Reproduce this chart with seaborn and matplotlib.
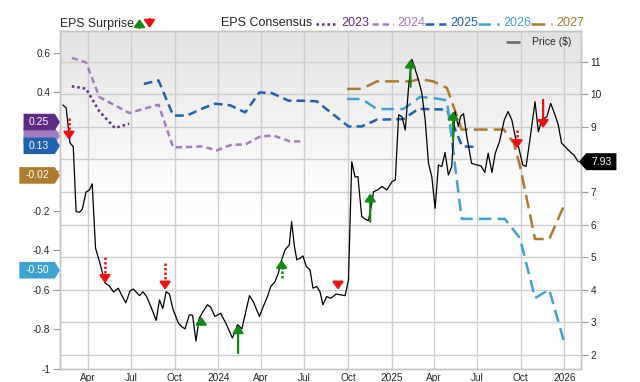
import numpy as np
import pandas as pd
import matplotlib
matplotlib.use("Agg")
import matplotlib.pyplot as plt
import matplotlib.dates as mdates
import matplotlib.transforms as mtransforms
from matplotlib.colors import LinearSegmentedColormap
from matplotlib.lines import Line2D
from matplotlib.patches import Polygon, FancyArrowPatch
import seaborn as sns

sns.set_style("white")
plt.rcParams["font.family"] = ["Liberation Sans", "DejaVu Sans"]

# price ($), right axis
price_dates = ["2023-02-07", "2023-02-14", "2023-02-22", "2023-03-01", "2023-03-07", "2023-03-14", "2023-03-20",
               "2023-03-28", "2023-04-04", "2023-04-10", "2023-04-17", "2023-04-26", "2023-05-07", "2023-05-16",
               "2023-05-25", "2023-06-04", "2023-06-11", "2023-06-20", "2023-06-29", "2023-07-06", "2023-07-19",
               "2023-07-26", "2023-08-03", "2023-08-12", "2023-08-23", "2023-08-30", "2023-09-06", "2023-09-13",
               "2023-09-20", "2023-09-28", "2023-10-09", "2023-10-16", "2023-10-23", "2023-11-01", "2023-11-08",
               "2023-11-15", "2023-11-22", "2023-11-30", "2023-12-09", "2023-12-16", "2023-12-25", "2024-01-06",
               "2024-01-17", "2024-01-31", "2024-02-11", "2024-02-20", "2024-03-07", "2024-03-15", "2024-03-28",
               "2024-04-05", "2024-04-14", "2024-04-21", "2024-04-30", "2024-05-07", "2024-05-14", "2024-05-21",
               "2024-05-30", "2024-06-04", "2024-06-10", "2024-06-15", "2024-06-22", "2024-06-28", "2024-07-05",
               "2024-07-13", "2024-07-19", "2024-07-27", "2024-08-03", "2024-08-09", "2024-08-17", "2024-08-26",
               "2024-09-06", "2024-09-17", "2024-09-25", "2024-10-02", "2024-10-09", "2024-10-16", "2024-10-22",
               "2024-10-30", "2024-11-06", "2024-11-13", "2024-11-19", "2024-11-24", "2024-12-02", "2024-12-12",
               "2024-12-22", "2025-01-02", "2025-01-09", "2025-01-16", "2025-01-23", "2025-01-30", "2025-02-06",
               "2025-02-13", "2025-02-20", "2025-02-27", "2025-03-06", "2025-03-13", "2025-03-20", "2025-03-27",
               "2025-04-03", "2025-04-10", "2025-04-17", "2025-04-24", "2025-05-01", "2025-05-08", "2025-05-15",
               "2025-05-22", "2025-05-27", "2025-06-02", "2025-06-09", "2025-06-19", "2025-06-30", "2025-07-09",
               "2025-07-17", "2025-07-24", "2025-08-01", "2025-08-08", "2025-08-17", "2025-08-27", "2025-09-04",
               "2025-09-12", "2025-09-19", "2025-09-26", "2025-10-05", "2025-10-12", "2025-10-21", "2025-10-31",
               "2025-11-07", "2025-11-14", "2025-11-25", "2025-12-03", "2025-12-12", "2025-12-19", "2025-12-26",
               "2026-01-06", "2026-01-16", "2026-01-21", "2026-01-30"]
price_vals = [9.67, 9.58, 8.51, 8.39, 6.40, 6.38, 6.47, 7.00, 7.06, 7.25,
              5.28, 4.83, 4.21, 4.12, 3.93, 4.05, 3.84, 3.60, 3.97, 4.02,
              3.82, 3.94, 3.79, 3.48, 3.06, 3.69, 3.42, 3.94, 3.87, 3.38,
              2.98, 2.87, 2.80, 3.23, 3.22, 2.43, 3.13, 3.33, 3.54, 3.47,
              3.18, 3.28, 2.98, 2.52, 2.93, 2.80, 3.82, 3.64, 3.18, 3.48,
              3.79, 4.10, 4.25, 4.51, 4.92, 5.22, 5.38, 6.09, 5.33, 4.92,
              4.97, 5.04, 4.71, 4.61, 4.05, 4.10, 3.94, 3.54, 3.79, 3.74,
              3.87, 3.84, 3.82, 4.30, 7.93, 7.46, 7.47, 6.25, 6.17, 6.12,
              6.55, 7.01, 7.06, 7.17, 7.06, 7.32, 7.37, 9.37, 9.31, 8.90,
              10.23, 11.07, 10.75, 10.44, 10.03, 9.21, 7.88, 7.47, 6.50, 7.83,
              7.78, 8.21, 7.52, 7.78, 9.47, 9.01, 9.33, 9.40, 8.70, 7.88,
              7.83, 7.80, 7.60, 8.19, 7.60, 8.19, 8.55, 9.21, 9.47, 9.21,
              8.70, 8.39, 7.83, 7.78, 8.70, 9.77, 8.85, 9.21, 9.31, 9.72,
              9.37, 9.06, 8.50, 8.34, 8.19, 8.14, 7.93]
last_price = 7.93

# EPS consensus by fiscal year, left axis
eps_2023_dates = ["2023-02-26", "2023-03-28", "2023-04-25", "2023-05-28", "2023-06-27"]
eps_2023 = [0.431, 0.419, 0.304, 0.220, 0.242]
eps_2024_dates = ["2023-02-26", "2023-03-28", "2023-04-25", "2023-06-27", "2023-08-28", "2023-09-28", "2023-11-02",
                  "2023-11-27", "2023-12-29", "2024-01-30", "2024-02-27", "2024-03-30", "2024-04-27", "2024-06-01",
                  "2024-06-29"]
eps_2024 = [0.575, 0.552, 0.377, 0.296, 0.338, 0.122, 0.124, 0.127, 0.107, 0.136, 0.136, 0.178, 0.181, 0.152, 0.152]
eps_2025_dates = ["2023-07-28", "2023-08-28", "2023-09-28", "2023-10-27", "2023-12-01", "2023-12-25", "2024-01-26",
                  "2024-02-27", "2024-03-28", "2024-04-23", "2024-05-29", "2024-06-29", "2024-07-27", "2024-10-02",
                  "2024-10-30", "2024-12-01", "2025-01-26", "2025-02-27", "2025-04-28", "2025-05-30", "2025-06-30"]
eps_2025 = [0.443, 0.461, 0.283, 0.283, 0.321, 0.343, 0.335, 0.299, 0.400, 0.397, 0.358, 0.358, 0.355, 0.228,
            0.228, 0.262, 0.265, 0.317, 0.313, 0.127, 0.124]
eps_2026_dates = ["2024-09-29", "2024-10-30", "2024-12-01", "2025-01-26", "2025-03-02", "2025-03-30", "2025-04-28",
                  "2025-05-29", "2025-08-28", "2025-09-29", "2025-10-31", "2025-11-30", "2025-12-31"]
eps_2026 = [0.367, 0.367, 0.316, 0.316, 0.377, 0.372, 0.360, -0.240, -0.240, -0.337, -0.641, -0.598, -0.860]
eps_2027_dates = ["2024-09-29", "2024-10-30", "2024-12-01", "2025-02-10", "2025-03-02", "2025-03-30", "2025-04-28",
                  "2025-05-29", "2025-08-26", "2025-09-16", "2025-09-29", "2025-10-31", "2025-11-30", "2025-12-31"]
eps_2027 = [0.418, 0.418, 0.456, 0.456, 0.468, 0.456, 0.423, 0.212, 0.212, 0.144, 0.030, -0.342, -0.342, -0.173]

years = ["2023", "2024", "2025", "2026", "2027"]
year_dates = [eps_2023_dates, eps_2024_dates, eps_2025_dates, eps_2026_dates, eps_2027_dates]
year_vals = [eps_2023, eps_2024, eps_2025, eps_2026, eps_2027]
year_colors = ["#5e2c84", "#a57cbf", "#1f62b0", "#3ea2d2", "#ad7a2e"]
year_styles = [(0, (1, 1.2)), (0, (2.5, 1.6)), (0, (3.5, 2)), (0, (5, 2.5)), (0, (5.5, 2.5))]
# current consensus tags on the left edge (2024 tag is hidden behind the others)
tag_years = ["2024", "2023", "2025", "2027", "2026"]
tag_values = [0.18, 0.25, 0.13, -0.02, -0.50]
tag_texts = ["", "0.25", "0.13", "-0.02", "-0.50"]

# axis ticks (labels hidden under the tags are left blank)
eps_ticks = [-1, -0.8, -0.6, -0.4, -0.2, 0, 0.2, 0.4, 0.6]
eps_tick_labels = ["-1", "-0.8", "-0.6", "-0.4", "-0.2", "", "", "0.4", "0.6"]
price_ticks = [2, 3, 4, 5, 6, 7, 8, 9, 10, 11]
price_tick_labels = ["2", "3", "4", "5", "6", "7", "", "9", "10", "11"]

# EPS surprise arrows (price at arrow tail and head)
surp_dates = ["2023-02-20", "2023-05-07", "2023-09-11", "2023-11-26", "2024-02-12", "2024-05-14",
              "2024-09-10", "2024-11-17", "2025-02-10", "2025-05-11", "2025-09-23", "2025-11-17"]
surp_from = [9.27, 5.02, 4.83, 2.92, 2.06, 4.37, 4.21, 6.09, 10.23, 8.60, 8.90, 9.83]
surp_to = [8.60, 4.20, 4.00, 3.18, 2.92, 4.92, 4.00, 6.96, 11.07, 9.47, 8.34, 8.96]
surp_solid = [False, False, False, False, True, False, False, True, True, True, False, True]

GREEN = "#138a13"
RED = "#f01010"
eps_lim = (-1.0, 0.711)
price_lim = (1.57, 11.94)
ARROW = "-|>,head_length=0.45,head_width=0.32"

fig = plt.figure(figsize=(6.4, 3.82), dpi=100)
ax = fig.add_axes([60 / 640, 13 / 382, 521 / 640, 338 / 382])
ax2 = ax.twinx()

# background gradient (grey top -> white)
g = np.linspace(0, 1, 256).reshape(-1, 1)
g = np.clip((g - 0.45) / 0.55, 0, 1) ** 1.2
cmap = LinearSegmentedColormap.from_list("bg", ["#ffffff", "#e3e3e3"])
ax.imshow(g, extent=[0, 1, 0, 1], transform=ax.transAxes, origin="lower", cmap=cmap,
          aspect="auto", zorder=0, vmin=0, vmax=1)


def p2e(p):
    return eps_lim[0] + (p - price_lim[0]) * (eps_lim[1] - eps_lim[0]) / (price_lim[1] - price_lim[0])


# horizontal grid follows the price axis, drawn under the consensus lines
for p in price_ticks:
    ax.axhline(p2e(p), color="#cdcdcd", lw=1, zorder=0.6)
ax.set_axisbelow(True)
ax.grid(axis="x", color="#cdcdcd", lw=1)

for yr, d, v, c, ls in zip(years, year_dates, year_vals, year_colors, year_styles):
    sns.lineplot(x=pd.to_datetime(d), y=v, ax=ax, color=c, linestyle=ls, lw=1.8, zorder=2)

sns.lineplot(x=pd.to_datetime(price_dates), y=price_vals, ax=ax2, color="black", lw=0.9, zorder=3)

# surprise arrows: solid ones in one piece, dotted ones as dotted shaft + head
head = 0.2
for d, f, t, solid in zip(surp_dates, surp_from, surp_to, surp_solid):
    c = GREEN if t > f else RED
    sgn = 1 if t > f else -1
    dt = pd.Timestamp(d)
    if solid:
        start = f
    else:
        base = t - sgn * head
        if (base - f) * sgn > 0:
            ax2.plot([dt, dt], [f, base], color=c, lw=1.8, linestyle=(0, (1, 0.8)), zorder=5,
                     dash_capstyle="butt")
        start = base
    ax2.annotate("", xy=(dt, t), xytext=(dt, start),
                 arrowprops=dict(arrowstyle=ARROW, color=c, lw=1.6, mutation_scale=10,
                                 shrinkA=0, shrinkB=0), zorder=5)

ax.set_xlim(pd.Timestamp("2023-02-01"), pd.Timestamp("2026-02-05"))
ax.set_ylim(*eps_lim)
ax2.set_ylim(*price_lim)

ax.xaxis.set_major_locator(mdates.MonthLocator(bymonth=[1, 4, 7, 10]))
ax.xaxis.set_major_formatter(plt.FuncFormatter(
    lambda v, pos: mdates.num2date(v).strftime("%Y" if mdates.num2date(v).month == 1 else "%b")))
ax.set_yticks(eps_ticks)
ax.set_yticklabels(eps_tick_labels)
ax2.set_yticks(price_ticks)
ax2.set_yticklabels(price_tick_labels)
ax.tick_params(axis="x", length=0, pad=3, labelsize=7.3)
ax.tick_params(axis="y", length=5, width=0.8, color="#999999", pad=2, labelsize=7.3, left=True)
ax2.tick_params(axis="y", length=5, width=0.8, color="#999999", pad=2, labelsize=7.3, right=True)
ax.set_xlabel("")
ax.set_ylabel("")
ax2.set_ylabel("")
for a in (ax, ax2):
    for s in a.spines.values():
        s.set_color("#c4c4c4")
        s.set_linewidth(1)

# left tags
trl = mtransforms.blended_transform_factory(ax.transAxes, ax.transData)
h = 8.3 / 197.5
for yr, v, txt in zip(tag_years, tag_values, tag_texts):
    c = year_colors[years.index(yr)]
    x0 = -0.078 if len(txt) > 4 else -0.070
    poly = Polygon([(x0, v - h), (-0.010, v - h), (0, v), (-0.010, v + h), (x0, v + h)],
                   closed=True, transform=trl, facecolor=c, edgecolor="none", clip_on=False, zorder=10)
    ax.add_patch(poly)
    if txt:
        ax.text((x0 - 0.010) / 2, v, txt, transform=trl, ha="center", va="center", color="white",
                fontsize=7.5, zorder=11, clip_on=False)

# price tag on the right
trr = mtransforms.blended_transform_factory(ax2.transAxes, ax2.transData)
hp = 8.5 / 32.6
ax2.add_patch(Polygon([(0.996, last_price), (1.010, last_price + hp), (1.068, last_price + hp),
                       (1.068, last_price - hp), (1.010, last_price - hp)], closed=True, transform=trr,
                      facecolor="black", edgecolor="none", clip_on=False, zorder=10))
ax2.text(1.039, last_price, "%.2f" % last_price, transform=trr, ha="center", va="center", color="white",
         fontsize=7.5, zorder=11, clip_on=False)

# top legend
W, H = 640.0, 382.0
ly = 1 - 23.5 / H
fig.text(60 / W, ly, "EPS Surprise", ha="left", va="center", fontsize=8.8)
for xp, up, c in [(139.5, True, GREEN), (149.5, False, RED)]:
    y_a, y_b = (H - 28, H - 19) if up else (H - 19, H - 28)
    fig.add_artist(FancyArrowPatch(
        (xp / W, y_a / H), (xp / W, y_b / H), transform=fig.transFigure,
        arrowstyle=ARROW, mutation_scale=10, color=c, lw=1.6, shrinkA=0, shrinkB=0))
fig.text(221 / W, ly, "EPS Consensus", ha="left", va="center", fontsize=9)
sample_x = [316, 372, 425, 478, 531]
for yr, c, ls, sx in zip(years, year_colors, year_styles, sample_x):
    fig.add_artist(Line2D([sx / W, (sx + 21) / W], [ly, ly], transform=fig.transFigure,
                          color=c, lw=1.8, linestyle=ls))
    fig.text((sx + 25) / W, ly, yr, ha="left", va="center", fontsize=9, color=c)

fig.add_artist(Line2D([507 / W, 519 / W], [1 - 42 / H, 1 - 42 / H], transform=fig.transFigure,
                      color="#707070", lw=2))
fig.text(532 / W, 1 - 42 / H, "Price ($)", ha="left", va="center", fontsize=7.5)

fig.savefig("out.png", dpi=100)
